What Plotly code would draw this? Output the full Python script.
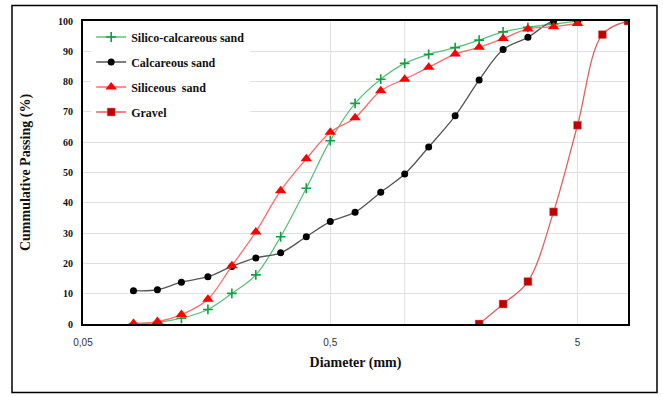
import plotly.graph_objects as go

sieves = [0.08, 0.1, 0.125, 0.16, 0.2, 0.25, 0.315, 0.4, 0.5, 0.63, 0.8,
          1.0, 1.25, 1.6, 2.0, 2.5, 3.15, 4.0, 5.0]
silico_calc = [0.0, 0.5, 1.9, 4.8, 10.1, 16.2, 28.8, 44.8, 60.5, 72.8, 80.8,
               86.0, 89.0, 91.2, 93.7, 96.4, 97.9, 99.0, 100.0]
calcareous = [11.0, 11.3, 13.8, 15.6, 19.0, 21.8, 23.5, 28.8, 33.8, 36.9, 43.5,
              49.5, 58.4, 68.7, 80.5, 90.6, 94.6, 100.0, 100.0]
siliceous = [0.2, 0.8, 3.1, 8.2, 19.2, 30.4, 44.0, 54.5, 63.3, 68.1, 77.0,
             80.8, 84.7, 89.1, 91.3, 94.2, 97.4, 98.1, 99.2]
gravel_sieves = [2.0, 2.5, 3.15, 4.0, 5.0, 6.3, 8.0]
gravel = [0.0, 6.6, 14.0, 37.0, 65.6, 95.5, 100.0]

x_tickvals = [0.05, 0.5, 5]
x_ticktext = ["0,05", "0,5", "5"]
y_tickvals = list(range(0, 101, 10))

fig = go.Figure()
fig.add_trace(go.Scatter(
    x=sieves, y=silico_calc, name="<b>Silico-calcareous sand</b>", legendgroup="a",
    mode="lines+markers", line=dict(color="#5cc27e", width=1.3, shape="spline"),
    marker=dict(symbol="cross-thin", size=7, line=dict(color="#10a040", width=1.6))))
fig.add_trace(go.Scatter(
    x=sieves, y=calcareous, name="<b>Calcareous sand</b>", legendgroup="b",
    mode="lines+markers", line=dict(color="#555555", width=1.3, shape="spline"),
    marker=dict(symbol="circle", size=7, color="#000000")))
fig.add_trace(go.Scatter(
    x=sieves, y=siliceous, name="<b>Siliceous  sand</b>", legendgroup="c",
    mode="lines+markers", line=dict(color="#ff6a6a", width=1.3, shape="spline"),
    marker=dict(symbol="triangle-up", size=10, color="#ff0000")))
fig.add_trace(go.Scatter(
    x=gravel_sieves, y=gravel, name="<b>Gravel</b>", legendgroup="d",
    mode="lines+markers", line=dict(color="#e06060", width=1.3, shape="spline"),
    marker=dict(symbol="square", size=8, color="#c00000",
                line=dict(color="#e88080", width=0.5))))

L, R, T, B = 83, 35, 21, 72
W, H = 663, 396
pw, ph = W - L - R, H - T - B

# vertical grid line at 1 mm
fig.add_shape(type="line", xref="x", yref="y", x0=1, x1=1, y0=0, y1=100,
              line=dict(color="#e0e0e0", width=1), layer="below")
# outer frame
fig.add_shape(type="rect", xref="paper", yref="paper",
              x0=(12 - L) / pw, x1=(657 - L) / pw,
              y0=(H - B - 392.5) / ph, y1=(H - B - 5.5) / ph,
              line=dict(color="#000000", width=1.5))

fig.update_layout(
    width=W, height=H, margin=dict(l=L, r=R, t=T, b=B),
    paper_bgcolor="white", plot_bgcolor="white",
    showlegend=True,
    legend=dict(x=0.015, y=0.995, xanchor="left", yanchor="top",
                bgcolor="white", borderwidth=0, tracegroupgap=6,
                font=dict(family="Liberation Serif", size=12, color="#111111"),
                traceorder="grouped"),
    xaxis=dict(type="log", range=[-1.30103, 0.90309],
               tickvals=x_tickvals, ticktext=x_ticktext,
               showgrid=True, gridcolor="#e0e0e0", gridwidth=1,
               showline=True, linecolor="#000000", linewidth=2, mirror=True,
               ticks="outside", ticklen=8, tickcolor="rgba(0,0,0,0)", zeroline=False,
               tickfont=dict(family="Liberation Sans", size=10, color="#333333"),
               title=dict(text="<b>Diameter (mm)</b>", standoff=10,
                          font=dict(family="Liberation Serif", size=14, color="#111111"))),
    yaxis=dict(range=[0, 100], tickvals=y_tickvals,
               showgrid=True, gridcolor="#e0e0e0", gridwidth=1,
               showline=True, linecolor="#000000", linewidth=2, mirror=True,
               ticks="outside", ticklen=6, tickcolor="rgba(0,0,0,0)", zeroline=False,
               tickfont=dict(family="Liberation Serif", size=10, color="#111111",
                             weight="bold"),
               title=dict(text="<b>Cummulative Passing (%)</b>", standoff=24,
                          font=dict(family="Liberation Serif", size=14, color="#111111"))),
)

fig.write_html("out.html")
